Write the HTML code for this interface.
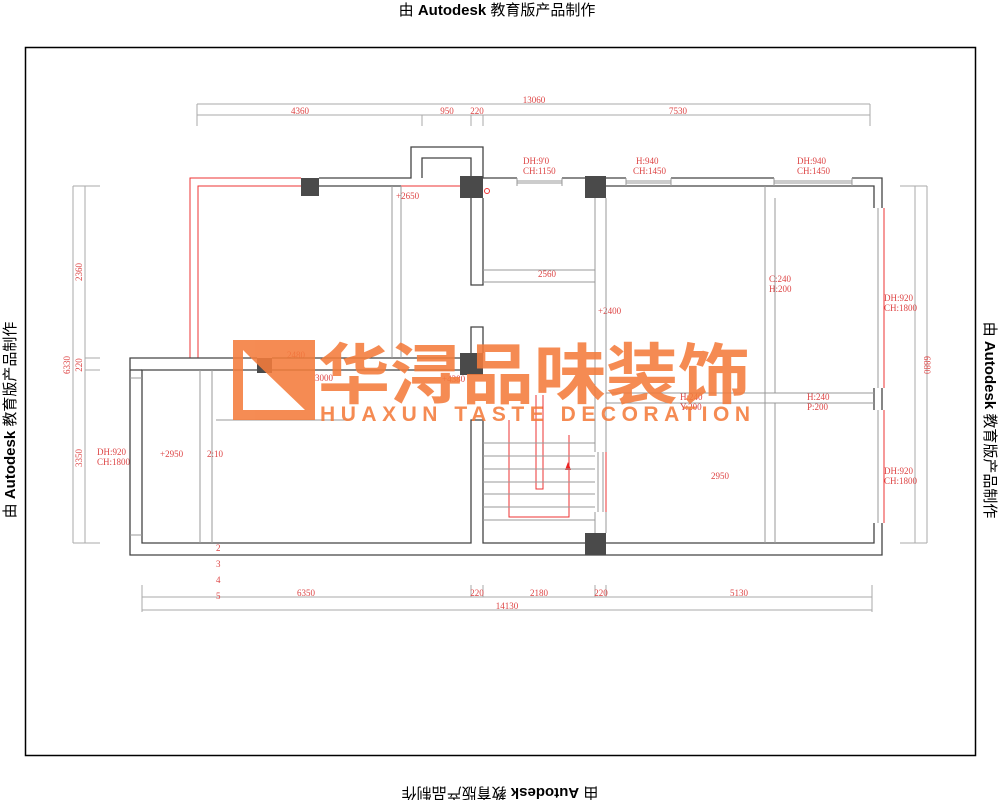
<!DOCTYPE html>
<html><head><meta charset="utf-8"><style>
body{margin:0;background:#fff;width:1000px;height:800px;overflow:hidden}
svg{display:block}
text{font-family:"Liberation Serif","Noto Serif CJK SC",serif}
</style></head><body>
<svg width="1000" height="800" viewBox="0 0 1000 800" xmlns="http://www.w3.org/2000/svg">
<rect width="1000" height="800" fill="#fff"/>
<g font-size="15" fill="#000">
<text x="497" y="15" text-anchor="middle" style="font-family:'Liberation Sans','Noto Sans CJK SC',sans-serif">由 <tspan font-weight="bold">Autodesk</tspan> 教育版产品制作</text>
<text transform="translate(500,788) rotate(180)" text-anchor="middle" style="font-family:'Liberation Sans','Noto Sans CJK SC',sans-serif">由 <tspan font-weight="bold">Autodesk</tspan> 教育版产品制作</text>
<text transform="translate(15,420) rotate(-90)" text-anchor="middle" style="font-family:'Liberation Sans','Noto Sans CJK SC',sans-serif">由 <tspan font-weight="bold">Autodesk</tspan> 教育版产品制作</text>
<text transform="translate(985,420) rotate(90)" text-anchor="middle" style="font-family:'Liberation Sans','Noto Sans CJK SC',sans-serif">由 <tspan font-weight="bold">Autodesk</tspan> 教育版产品制作</text>
</g>
<rect x="25.5" y="47.5" width="950" height="708" fill="none" stroke="#000" stroke-width="1.5"/>

<g fill="none" stroke="#aaa" stroke-width="1">
<line x1="197" y1="104" x2="870" y2="104"/>
<line x1="197" y1="115" x2="870" y2="115"/>
<line x1="197" y1="104" x2="197" y2="126"/><line x1="422" y1="115" x2="422" y2="126"/>
<line x1="471" y1="115" x2="471" y2="126"/><line x1="483" y1="115" x2="483" y2="126"/>
<line x1="870" y1="104" x2="870" y2="126"/>
<line x1="142" y1="597" x2="872" y2="597"/>
<line x1="142" y1="610" x2="872" y2="610"/>
<line x1="142" y1="585" x2="142" y2="612"/><line x1="471" y1="585" x2="471" y2="597"/>
<line x1="483" y1="585" x2="483" y2="597"/><line x1="595" y1="585" x2="595" y2="597"/>
<line x1="606" y1="585" x2="606" y2="597"/><line x1="872" y1="585" x2="872" y2="612"/>
<line x1="73" y1="186" x2="73" y2="543"/><line x1="85" y1="186" x2="85" y2="543"/>
<line x1="73" y1="186" x2="100" y2="186"/><line x1="85" y1="358" x2="100" y2="358"/>
<line x1="85" y1="370" x2="100" y2="370"/><line x1="73" y1="543" x2="100" y2="543"/>
<line x1="915" y1="186" x2="915" y2="543"/><line x1="927" y1="186" x2="927" y2="543"/>
<line x1="900" y1="186" x2="927" y2="186"/><line x1="900" y1="543" x2="927" y2="543"/>
</g>

<g font-size="9" fill="#d44">
<text x="300" y="114" text-anchor="middle">4360</text>
<text x="447" y="114" text-anchor="middle">950</text>
<text x="477" y="114" text-anchor="middle">220</text>
<text x="534" y="103" text-anchor="middle">13060</text>
<text x="678" y="114" text-anchor="middle">7530</text>
<text x="306" y="596" text-anchor="middle">6350</text>
<text x="477" y="596" text-anchor="middle">220</text>
<text x="539" y="596" text-anchor="middle">2180</text>
<text x="601" y="596" text-anchor="middle">220</text>
<text x="739" y="596" text-anchor="middle">5130</text>
<text x="507" y="609" text-anchor="middle">14130</text>
<text transform="translate(82,272) rotate(-90)" text-anchor="middle">2360</text>
<text transform="translate(70,365) rotate(-90)" text-anchor="middle">6330</text>
<text transform="translate(82,365) rotate(-90)" text-anchor="middle">220</text>
<text transform="translate(82,458) rotate(-90)" text-anchor="middle">3350</text>
<text transform="translate(924,365) rotate(90)" text-anchor="middle">6880</text>
<text x="523" y="164">DH:9'0</text><text x="523" y="174">CH:1150</text>
<text x="636" y="164">H:940</text><text x="633" y="174">CH:1450</text>
<text x="797" y="164">DH:940</text><text x="797" y="174">CH:1450</text>
<text x="884" y="301">DH:920</text><text x="884" y="311">CH:1800</text>
<text x="884" y="474">DH:920</text><text x="884" y="484">CH:1800</text>
<text x="97" y="455">DH:920</text><text x="97" y="465">CH:1800</text>
<text x="396" y="199">+2650</text>
<text x="538" y="277">2560</text>
<text x="598" y="314">+2400</text>
<text x="769" y="282">C:240</text><text x="769" y="292">H:200</text>
<text x="680" y="400">H:240</text><text x="680" y="410">Y:200</text>
<text x="807" y="400">H:240</text><text x="807" y="410">P:200</text>
<text x="287" y="358">2480</text><text x="315" y="381">3000</text>
<text x="442" y="382">+4380</text>
<text x="160" y="457">+2950</text><text x="207" y="457">2:10</text>
<text x="711" y="479">2950</text>
<text x="216" y="551">2</text><text x="216" y="567">3</text><text x="216" y="583">4</text><text x="216" y="599">5</text>
</g>

<g stroke="#e33" stroke-width="1" fill="none">
<path d="M190 358 V178 H301"/>
<path d="M198 358 V186 H301"/>
<line x1="130" y1="378" x2="130" y2="535"/>
<line x1="401" y1="186" x2="460" y2="186"/>
<path d="M509 420 V517 H569 V435"/>
<path d="M536 395 V489 H543 V395"/>
<line x1="606" y1="452" x2="606" y2="512"/>
<line x1="884" y1="208" x2="884" y2="388"/><line x1="884" y1="410" x2="884" y2="523"/>
</g>
<polygon points="568,462 565,470 571,470" fill="#e22"/>

<g fill="none" stroke="#444" stroke-width="1.3">
<path d="M319 178 H411 V147 H483 V178 H517"/>
<path d="M319 186 H401 M422 178 V158 H471 V178"/>
<path d="M562 178 H585 M606 178 H626 M671 178 H774 M852 178 H882 V208 M882 388 V410 M882 523 V555 H130 V358 H257"/>
<path d="M606 186 H874 V208 M874 388 V410 M874 523 V543 H606"/>
<path d="M585 543 H483 V420 H471 V543 H142 V370 H257"/>
<path d="M130 370 H142"/>
<path d="M272 358 H460 M272 370 H460"/>
<path d="M471 198 V285 H483 V198"/>
<path d="M471 353 V327 H483 V353"/>
</g>
<g fill="none" stroke="#999" stroke-width="1">
<path d="M595 198 V452 M606 198 V452 M595 512 V533 M606 512 V533"/>
<path d="M598 452 V512 M603 452 V512"/>
<path d="M483 270 H595 M483 282 H595"/>
<path d="M401 186 V358 M392 186 V358"/>
<path d="M765 186 V543 M775 198 V393 M775 403 V543"/>
<path d="M606 393 H874 M606 403 H874"/>
<path d="M878 208 V388 M878 410 V523"/>
<path d="M517 178 V186 M562 178 V186 M517 181 H562 M517 183 H562"/>
<path d="M626 178 V186 M671 178 V186 M626 181 H671 M626 183 H671"/>
<path d="M774 178 V186 M852 178 V186 M774 181 H852 M774 183 H852"/>
<path d="M200 370 V543 M212 370 V543 M216 420 H350"/>
<path d="M483 443 H595 M483 456 H595 M483 469 H595 M483 482 H595 M483 494 H595 M483 507 H595 M483 520 H595"/>
<path d="M130 378 H142 M130 535 H142"/>
</g>
<g fill="#4a4a4a">
<rect x="301" y="178" width="18" height="18"/>
<rect x="460" y="176" width="23" height="22"/>
<rect x="585" y="176" width="21" height="22"/>
<rect x="585" y="533" width="21" height="22"/>
<rect x="257" y="358" width="15" height="15"/>
<rect x="460" y="353" width="23" height="22"/>
</g>
<circle cx="487" cy="191" r="2.5" fill="none" stroke="#e33"/>

<g opacity="0.88" fill="#f47c3c">
<path d="M233 340 H315 V420 H233 Z M243 350 V410 H305 L255 362 Z" fill-rule="evenodd"/>
<text x="318" y="398" font-size="66" font-weight="bold" style="font-family:'Noto Sans CJK SC','WenQuanYi Zen Hei',sans-serif" textLength="432" lengthAdjust="spacingAndGlyphs">华浔品味装饰</text>
<text x="320" y="421" font-size="21" font-weight="bold" style="font-family:'Liberation Sans',sans-serif" textLength="430" lengthAdjust="spacing">HUAXUN TASTE DECORATION</text>
</g>
</svg>
</body></html>
